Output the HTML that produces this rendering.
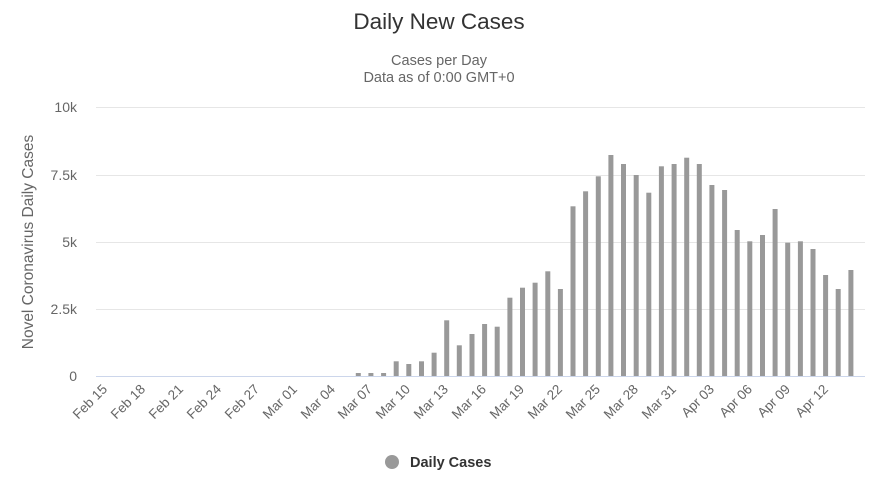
<!DOCTYPE html>
<html><head><meta charset="utf-8"><style>
html,body{margin:0;padding:0;background:#fff;}
svg{display:block;font-family:"Liberation Sans",sans-serif;}
</style></head><body>
<svg width="878" height="500" xmlns="http://www.w3.org/2000/svg">
<text x="439" y="29" text-anchor="middle" font-size="22.5" fill="#333">Daily New Cases</text>
<text x="439" y="65" text-anchor="middle" font-size="14.5" fill="#666">Cases per Day</text>
<text x="439" y="82" text-anchor="middle" font-size="14.5" fill="#666">Data as of 0:00 GMT+0</text>
<g stroke="#e6e6e6" stroke-width="1">
<line x1="96" x2="865" y1="107.5" y2="107.5"/>
<line x1="96" x2="865" y1="175.5" y2="175.5"/>
<line x1="96" x2="865" y1="242.5" y2="242.5"/>
<line x1="96" x2="865" y1="309.5" y2="309.5"/>
</g>
<line x1="96" x2="865" y1="376.5" y2="376.5" stroke="#ccd6eb"/>
<g font-size="14" fill="#666" text-anchor="end">
<text x="77" y="112">10k</text>
<text x="77" y="180">7.5k</text>
<text x="77" y="247">5k</text>
<text x="77" y="314">2.5k</text>
<text x="77" y="381">0</text>
</g>
<text transform="translate(33,242) rotate(-90)" text-anchor="middle" font-size="15.5" fill="#666">Novel Coronavirus Daily Cases</text>
<g fill="#999">
<rect x="355.8" y="373" width="5" height="3"/>
<rect x="368.4" y="373" width="5" height="3"/>
<rect x="381.1" y="373" width="5" height="3"/>
<rect x="393.7" y="361.3" width="5" height="14.7"/>
<rect x="406.3" y="364" width="5" height="12"/>
<rect x="419.0" y="361.3" width="5" height="14.7"/>
<rect x="431.6" y="352.7" width="5" height="23.3"/>
<rect x="444.2" y="320.3" width="5" height="55.7"/>
<rect x="456.8" y="345.3" width="5" height="30.7"/>
<rect x="469.5" y="334" width="5" height="42"/>
<rect x="482.1" y="324" width="5" height="52"/>
<rect x="494.7" y="326.7" width="5" height="49.3"/>
<rect x="507.4" y="297.7" width="5" height="78.3"/>
<rect x="520.0" y="287.7" width="5" height="88.3"/>
<rect x="532.6" y="282.7" width="5" height="93.3"/>
<rect x="545.3" y="271.3" width="5" height="104.7"/>
<rect x="557.9" y="289" width="5" height="87"/>
<rect x="570.5" y="206.3" width="5" height="169.7"/>
<rect x="583.1" y="191.3" width="5" height="184.7"/>
<rect x="595.8" y="176.3" width="5" height="199.7"/>
<rect x="608.4" y="155" width="5" height="221"/>
<rect x="621.0" y="164" width="5" height="212"/>
<rect x="633.7" y="175" width="5" height="201"/>
<rect x="646.3" y="192.7" width="5" height="183.3"/>
<rect x="658.9" y="166.3" width="5" height="209.7"/>
<rect x="671.6" y="164" width="5" height="212"/>
<rect x="684.2" y="157.7" width="5" height="218.3"/>
<rect x="696.8" y="164" width="5" height="212"/>
<rect x="709.4" y="185" width="5" height="191"/>
<rect x="722.1" y="190" width="5" height="186"/>
<rect x="734.7" y="230" width="5" height="146"/>
<rect x="747.3" y="241.3" width="5" height="134.7"/>
<rect x="760.0" y="235" width="5" height="141"/>
<rect x="772.6" y="209" width="5" height="167"/>
<rect x="785.2" y="242.7" width="5" height="133.3"/>
<rect x="797.9" y="241.3" width="5" height="134.7"/>
<rect x="810.5" y="249" width="5" height="127"/>
<rect x="823.1" y="275" width="5" height="101"/>
<rect x="835.7" y="289" width="5" height="87"/>
<rect x="848.4" y="270" width="5" height="106"/>
</g>
<g font-size="13.5" fill="#666" text-anchor="end">
<text transform="translate(108,390) rotate(-45)">Feb 15</text>
<text transform="translate(146,390) rotate(-45)">Feb 18</text>
<text transform="translate(184,390) rotate(-45)">Feb 21</text>
<text transform="translate(222,390) rotate(-45)">Feb 24</text>
<text transform="translate(260,390) rotate(-45)">Feb 27</text>
<text transform="translate(298,390) rotate(-45)">Mar 01</text>
<text transform="translate(336,390) rotate(-45)">Mar 04</text>
<text transform="translate(373,390) rotate(-45)">Mar 07</text>
<text transform="translate(411,390) rotate(-45)">Mar 10</text>
<text transform="translate(449,390) rotate(-45)">Mar 13</text>
<text transform="translate(487,390) rotate(-45)">Mar 16</text>
<text transform="translate(525,390) rotate(-45)">Mar 19</text>
<text transform="translate(563,390) rotate(-45)">Mar 22</text>
<text transform="translate(601,390) rotate(-45)">Mar 25</text>
<text transform="translate(639,390) rotate(-45)">Mar 28</text>
<text transform="translate(677,390) rotate(-45)">Mar 31</text>
<text transform="translate(715,390) rotate(-45)">Apr 03</text>
<text transform="translate(753,390) rotate(-45)">Apr 06</text>
<text transform="translate(791,390) rotate(-45)">Apr 09</text>
<text transform="translate(829,390) rotate(-45)">Apr 12</text>
</g>
<circle cx="392" cy="462" r="7" fill="#999"/>
<text x="410" y="467" font-size="14.5" font-weight="bold" fill="#333">Daily Cases</text>
</svg>
</body></html>
